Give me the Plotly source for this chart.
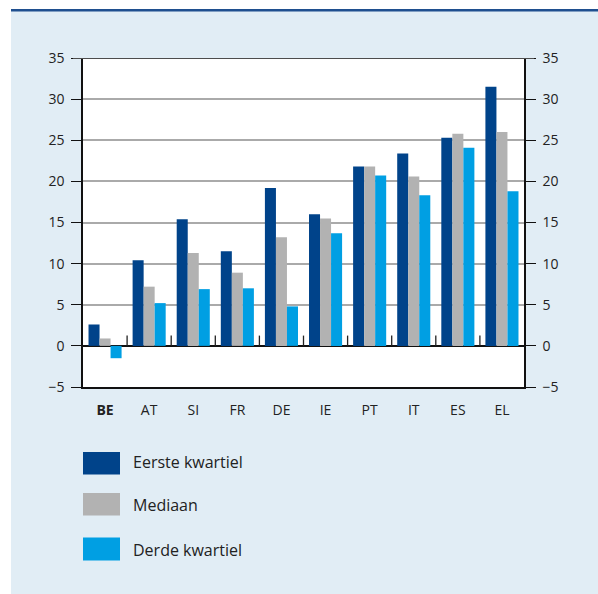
import plotly.graph_objects as go

categories = ["BE", "AT", "SI", "FR", "DE", "IE", "PT", "IT", "ES", "EL"]
tick_labels = ["<b>BE</b>", "AT", "SI", "FR", "DE", "IE", "PT", "IT", "ES", "EL"]
series_names = ["Eerste kwartiel", "Mediaan", "Derde kwartiel"]
eerste = [2.6, 10.4, 15.4, 11.5, 19.2, 16.0, 21.8, 23.4, 25.3, 31.5]
mediaan = [0.9, 7.2, 11.3, 8.9, 13.2, 15.5, 21.8, 20.6, 25.8, 26.0]
derde = [-1.5, 5.2, 6.9, 7.0, 4.8, 13.7, 20.7, 18.3, 24.1, 18.8]
colors = ["#00438a", "#b2b2b2", "#009fe3"]
y_ticks = [-5, 0, 5, 10, 15, 20, 25, 30, 35]

W, H = 598, 594
L, R, T, B = 83, 74, 58, 207
PW, PH = W - L - R, H - T - B


def px(x):
    return (x - L) / PW


def py(y):
    return (H - B - y) / PH


FONT = "Open Sans"
TXT = "#222222"

fig = go.Figure()
for name, vals, c in zip(series_names, [eerste, mediaan, derde], colors):
    fig.add_trace(go.Bar(x=categories, y=vals, name=name, marker=dict(color=c, line=dict(width=0)),
                         showlegend=False))
# invisible trace for right axis
fig.add_trace(go.Scatter(x=categories, y=[None] * len(categories), yaxis="y2", showlegend=False,
                         hoverinfo="skip"))

shapes = []
# panel background pieces outside plot (white margins and top rule)
shapes.append(dict(type="rect", xref="paper", yref="paper", x0=px(0), x1=px(11), y0=py(0), y1=py(H),
                   fillcolor="white", line=dict(width=0), layer="above"))
shapes.append(dict(type="rect", xref="paper", yref="paper", x0=px(0), x1=px(W), y0=py(0), y1=py(9),
                   fillcolor="white", line=dict(width=0), layer="above"))
shapes.append(dict(type="rect", xref="paper", yref="paper", x0=px(11), x1=px(W), y0=py(9), y1=py(11.5),
                   fillcolor="#1f4f8f", line=dict(width=0), layer="above"))
# top border of plot
shapes.append(dict(type="line", xref="paper", yref="y", x0=px(73), x1=px(534), y0=35, y1=35,
                   line=dict(color="#4d4d4d", width=2.2), layer="above"))
# category separator ticks on the zero line
for i in range(len(categories) - 1):
    shapes.append(dict(type="line", xref="x", yref="y", x0=i + 0.5, x1=i + 0.5, y0=0, y1=1.25,
                       line=dict(color="#222222", width=1.3), layer="above"))

annotations = []
legend_boxes = [(452, 474.5), (493, 515.5), (537.5, 560.5)]
legend_text_y = [462, 505, 550]
for name, c, (y0, y1), ty in zip(series_names, colors, legend_boxes, legend_text_y):
    shapes.append(dict(type="rect", xref="paper", yref="paper", x0=px(83), x1=px(120), y0=py(y1), y1=py(y0),
                       fillcolor=c, line=dict(width=0), layer="above"))
    annotations.append(dict(xref="paper", yref="paper", x=px(131), y=py(ty), text=name, showarrow=False,
                            xanchor="left", yanchor="middle", font=dict(family=FONT, size=16, color=TXT)))

fig.update_layout(
    width=W, height=H,
    margin=dict(l=L, r=R, t=T, b=B, pad=0),
    paper_bgcolor="#e1edf5",
    plot_bgcolor="white",
    barmode="group",
    bargap=0.25,
    bargroupgap=0,
    font=dict(family=FONT, size=14, color=TXT),
    shapes=shapes,
    annotations=annotations,
    xaxis=dict(
        categoryorder="array", categoryarray=categories,
        tickmode="array", tickvals=categories, ticktext=tick_labels,
        showline=True, linecolor="#111111", linewidth=1.5, ticks="",
        showgrid=False, ticklabelstandoff=9,
        tickfont=dict(family=FONT, size=14, color=TXT),
        range=[-0.5, len(categories) - 0.5],
    ),
    yaxis=dict(
        range=[-5, 35], tickmode="array", tickvals=y_ticks,
        showline=True, linecolor="#111111", linewidth=1.5,
        ticks="outside", ticklen=10, tickcolor="#111111", tickwidth=1.3,
        showgrid=True, gridcolor="#aaaaaa", gridwidth=1.5,
        zeroline=True, zerolinecolor="#111111", zerolinewidth=1.5,
        tickfont=dict(family=FONT, size=14, color=TXT),
        ticklabelstandoff=4,
    ),
    yaxis2=dict(
        range=[-5, 35], tickmode="array", tickvals=y_ticks, overlaying="y", side="right",
        showline=True, linecolor="#111111", linewidth=1.5,
        ticks="outside", ticklen=10, tickcolor="#111111", tickwidth=1.3,
        showgrid=False, zeroline=False,
        tickfont=dict(family=FONT, size=14, color=TXT),
        ticklabelstandoff=4,
    ),
)

fig.write_html("out.html")
